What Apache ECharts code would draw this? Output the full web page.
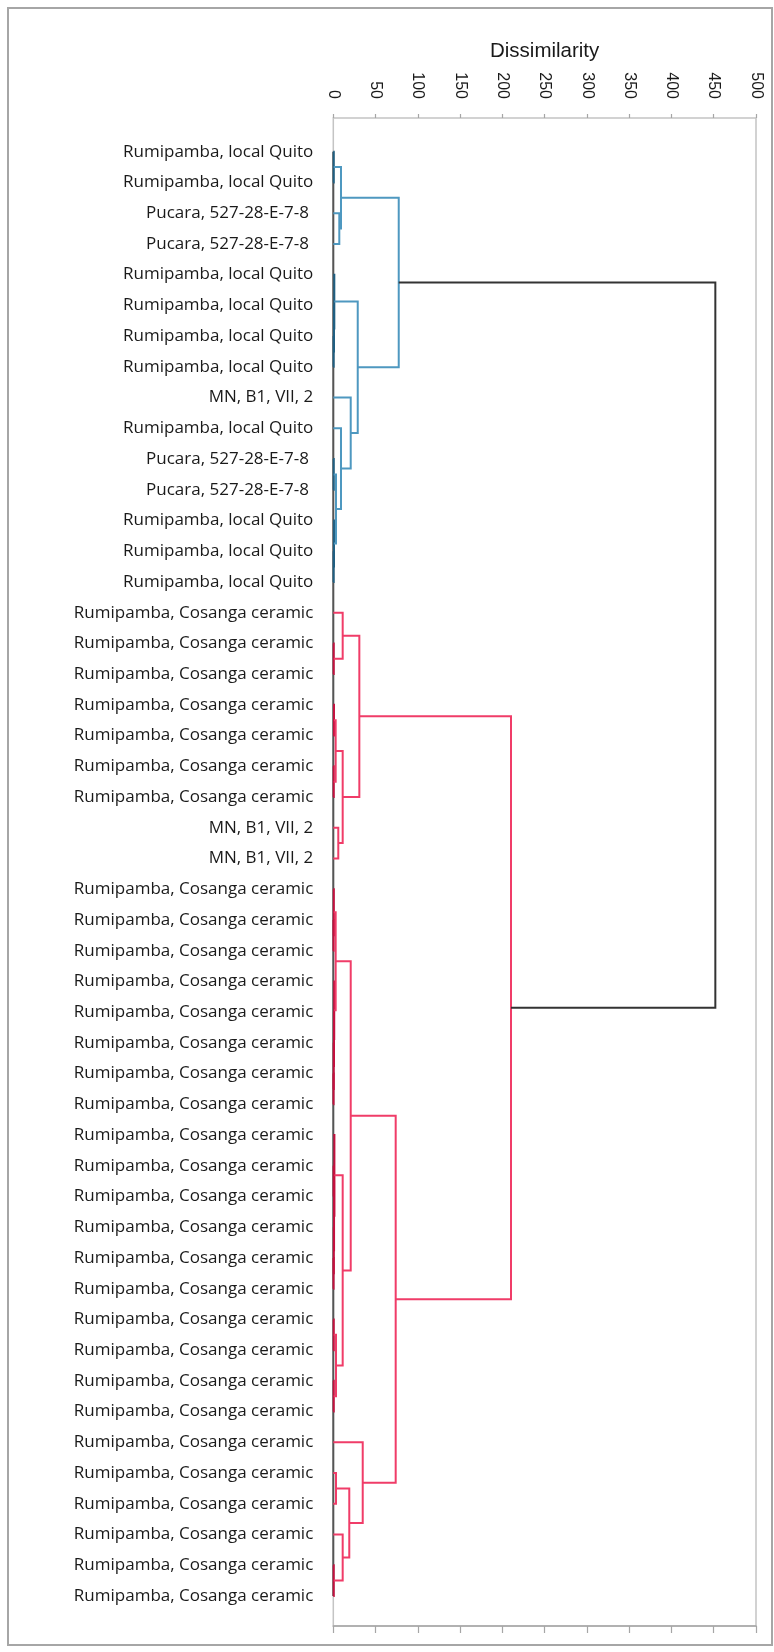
<!DOCTYPE html>
<html>
<head>
<meta charset="utf-8">
<script src="https://cdn.jsdelivr.net/npm/echarts@6/dist/echarts.min.js"></script>
<style>
  html, body { margin: 0; padding: 0; background: #fff; }
  #chart { width: 774px; height: 1652px; }
</style>
</head>
<body>
<div id="chart"></div>
<script>
// ---------------- data ----------------
const leafLabels = [
  'Rumipamba, local Quito',
  'Rumipamba, local Quito',
  'Pucara, 527-28-E-7-8 ',
  'Pucara, 527-28-E-7-8 ',
  'Rumipamba, local Quito',
  'Rumipamba, local Quito',
  'Rumipamba, local Quito',
  'Rumipamba, local Quito',
  'MN, B1, VII, 2',
  'Rumipamba, local Quito',
  'Pucara, 527-28-E-7-8 ',
  'Pucara, 527-28-E-7-8 ',
  'Rumipamba, local Quito',
  'Rumipamba, local Quito',
  'Rumipamba, local Quito',
  'Rumipamba, Cosanga ceramic',
  'Rumipamba, Cosanga ceramic',
  'Rumipamba, Cosanga ceramic',
  'Rumipamba, Cosanga ceramic',
  'Rumipamba, Cosanga ceramic',
  'Rumipamba, Cosanga ceramic',
  'Rumipamba, Cosanga ceramic',
  'MN, B1, VII, 2',
  'MN, B1, VII, 2',
  'Rumipamba, Cosanga ceramic',
  'Rumipamba, Cosanga ceramic',
  'Rumipamba, Cosanga ceramic',
  'Rumipamba, Cosanga ceramic',
  'Rumipamba, Cosanga ceramic',
  'Rumipamba, Cosanga ceramic',
  'Rumipamba, Cosanga ceramic',
  'Rumipamba, Cosanga ceramic',
  'Rumipamba, Cosanga ceramic',
  'Rumipamba, Cosanga ceramic',
  'Rumipamba, Cosanga ceramic',
  'Rumipamba, Cosanga ceramic',
  'Rumipamba, Cosanga ceramic',
  'Rumipamba, Cosanga ceramic',
  'Rumipamba, Cosanga ceramic',
  'Rumipamba, Cosanga ceramic',
  'Rumipamba, Cosanga ceramic',
  'Rumipamba, Cosanga ceramic',
  'Rumipamba, Cosanga ceramic',
  'Rumipamba, Cosanga ceramic',
  'Rumipamba, Cosanga ceramic',
  'Rumipamba, Cosanga ceramic',
  'Rumipamba, Cosanga ceramic',
  'Rumipamba, Cosanga ceramic'
];

// merge k creates node id = leafLabels.length + k (linkage style)
const mergeLeft   = [0, 2, 48, 6, 5, 4, 10, 13, 12, 54, 9, 8, 53, 50,
                     16, 15, 18, 20, 64, 22, 66, 63,
                     25, 24, 30, 29, 28, 27, 71, 36, 35, 33, 79, 32, 38, 40, 82, 81, 76,
                     43, 46, 45, 87, 42, 86, 69, 61];
const mergeRight  = [1, 3, 49, 7, 51, 52, 11, 14, 55, 56, 57, 58, 59, 60,
                     17, 62, 19, 21, 65, 23, 67, 68,
                     26, 70, 31, 72, 73, 74, 75, 37, 77, 34, 78, 80, 39, 41, 83, 84, 85,
                     44, 47, 88, 89, 90, 91, 92, 93];
const mergeHeight = [0.5, 7.1, 9.1, 0.4, 0.8, 1.2, 0.5, 0.4, 0.8, 3.2, 9.1, 20.6, 28.9, 77.4,
                     0.5, 11.1, 0.8, 0.5, 2.8, 5.9, 11.1, 30.8,
                     0.3, 0.6, 0.3, 0.5, 0.8, 1.1, 2.8, 0.3, 0.6, 0.4, 0.9, 1.3, 0.5, 0.5, 3.2, 11.1, 20.6,
                     3.2, 0.5, 11.1, 18.9, 34.8, 73.8, 210.2, 451.9];
// 0 blue cluster, 1 red cluster, 2 root (black)
const mergeGroup  = [0, 0, 0, 0, 0, 0, 0, 0, 0, 0, 0, 0, 0, 0,
                     1, 1, 1, 1, 1, 1, 1, 1,
                     1, 1, 1, 1, 1, 1, 1, 1, 1, 1, 1, 1, 1, 1, 1, 1, 1,
                     1, 1, 1, 1, 1, 1, 1, 2];

const xTicks = [0, 50, 100, 150, 200, 250, 300, 350, 400, 450, 500];

// ---------------- build tree geometry in data units ----------------
const nLeaves = leafLabels.length;
const nodeH = [], nodeY = [];
for (let i = 0; i < nLeaves; i++) { nodeH[i] = 0; nodeY[i] = i; }
const segData = [];
for (let k = 0; k < mergeHeight.length; k++) {
  const a = mergeLeft[k], b = mergeRight[k], id = nLeaves + k;
  nodeH[id] = mergeHeight[k];
  nodeY[id] = (nodeY[a] + nodeY[b]) / 2;
  segData.push([mergeHeight[k], nodeY[a], nodeH[a], nodeY[b], nodeH[b], mergeGroup[k]]);
}

const groupColor = ['#4e98c0', '#f03c68', '#333333'];
const tinyColor  = ['#1f5f82', '#c4103e', '#333333'];

const chart = echarts.init(document.getElementById('chart'), null, { renderer: 'canvas' });

const option = {
  backgroundColor: '#ffffff',
  animation: false,
  graphic: [{
    type: 'rect',
    shape: { x: 8, y: 8, width: 764, height: 1637 },
    style: { fill: null, stroke: '#a6a6a6', lineWidth: 2 },
    silent: true, z: -10
  }],
  grid: [
    { left: 333.3, right: 18, top: 118, bottom: 26, show: true, borderColor: '#c4c4c4', borderWidth: 1.5, backgroundColor: 'transparent' },
    { left: 333.3, right: 18, top: 121, bottom: 25.3 }
  ],
  xAxis: [
    {
      gridIndex: 0, type: 'value', position: 'top', min: xTicks[0], max: xTicks[xTicks.length - 1], interval: 50,
      name: 'Dissimilarity', nameLocation: 'middle', nameGap: 56,
      nameTextStyle: { fontFamily: 'Liberation Sans', fontSize: 20.5, color: '#1a1a1a' },
      axisLine: { show: true, lineStyle: { color: '#a6a6a6', width: 1.5 } },
      axisTick: { show: true, inside: true, length: 7, lineStyle: { color: '#a6a6a6', width: 1.2 } },
      axisLabel: { show: true, rotate: -90, margin: 19, fontFamily: 'Liberation Sans', fontSize: 16, color: '#1a1a1a' },
      splitLine: { show: false }
    },
    {
      gridIndex: 0, type: 'value', position: 'top', min: xTicks[0], max: xTicks[xTicks.length - 1], interval: 50,
      axisLine: { show: false },
      axisTick: { show: true, inside: false, length: 4, lineStyle: { color: '#a6a6a6', width: 1.2 } },
      axisLabel: { show: false },
      splitLine: { show: false }
    },
    {
      gridIndex: 1, type: 'value', min: xTicks[0], max: xTicks[xTicks.length - 1], show: false
    }
  ],
  yAxis: [
    { gridIndex: 0, type: 'value', min: 0, max: 1, show: false },
    {
      gridIndex: 1, type: 'value', inverse: true, min: -1, max: nLeaves, interval: 1,
      axisLine: { show: false }, axisTick: { show: false }, splitLine: { show: false },
      axisLabel: {
        show: true, margin: 20, fontFamily: 'Open Sans', fontSize: 17, color: '#1a1a1a',
        formatter: function (v) { return (v >= 0 && v < nLeaves) ? leafLabels[v] : ''; }
      }
    }
  ],
  series: [
    {
      type: 'line', xAxisIndex: 2, yAxisIndex: 1, symbol: 'none', silent: true,
      data: [[0, 0], [0, nLeaves - 1]],
      lineStyle: { color: '#555555', width: 2 }, z: 2
    },
    {
      type: 'custom', xAxisIndex: 2, yAxisIndex: 1, silent: true, clip: false, z: 3,
      encode: { x: [0, 2, 4], y: [1, 3] },
      data: segData,
      renderItem: function (params, api) {
        const h = api.value(0), ya = api.value(1), ha = api.value(2), yb = api.value(3), hb = api.value(4), g = api.value(5);
        const pts = [api.coord([ha, ya]), api.coord([h, ya]), api.coord([h, yb]), api.coord([hb, yb])];
        const col = h < 1.5 ? tinyColor[g] : groupColor[g];
        return { type: 'polyline', shape: { points: pts }, style: { stroke: col, lineWidth: 2, fill: null } };
      }
    }
  ]
};
chart.setOption(option);
</script>
</body>
</html>
